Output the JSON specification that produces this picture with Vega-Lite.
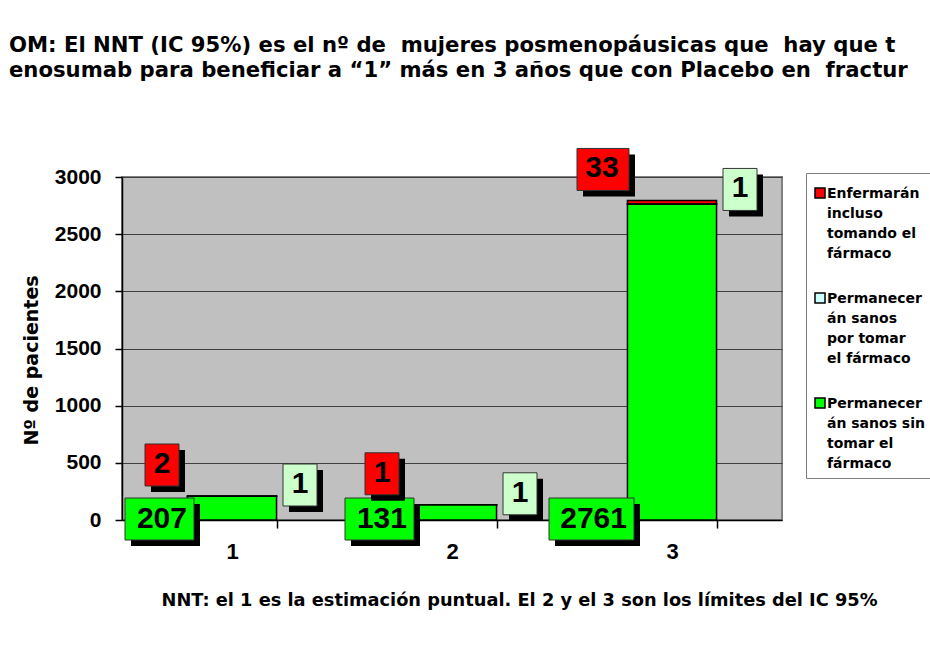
{
  "$schema": "https://vega.github.io/schema/vega-lite/v6.json",
  "autosize": {"type": "none"},
  "width": 660,
  "height": 343,
  "padding": {"left": 122, "top": 177, "right": 148, "bottom": 126},
  "background": "white",
  "title": {
    "text": ["OM: El NNT (IC 95%) es el nº de\u00a0 mujeres posmenopáusicas que\u00a0 hay que t", "enosumab para beneficiar a “1” más en 3 años que con Placebo en\u00a0 fractur"],
    "anchor": "start",
    "frame": "group",
    "dx": -113,
    "dy": -61,
    "font": "DejaVu Sans",
    "fontSize": 21.2,
    "fontWeight": "bold",
    "lineHeight": 25,
    "color": "black"
  },
  "data": {
    "values": [
      {"nnt": "1", "serie": "Enfermarán incluso tomando el fármaco", "n": 2},
      {"nnt": "1", "serie": "Permanecerán sanos por tomar el fármaco", "n": 1},
      {"nnt": "1", "serie": "Permanecerán sanos sin tomar el fármaco", "n": 207},
      {"nnt": "2", "serie": "Enfermarán incluso tomando el fármaco", "n": 1},
      {"nnt": "2", "serie": "Permanecerán sanos por tomar el fármaco", "n": 1},
      {"nnt": "2", "serie": "Permanecerán sanos sin tomar el fármaco", "n": 131},
      {"nnt": "3", "serie": "Enfermarán incluso tomando el fármaco", "n": 33},
      {"nnt": "3", "serie": "Permanecerán sanos por tomar el fármaco", "n": 1},
      {"nnt": "3", "serie": "Permanecerán sanos sin tomar el fármaco", "n": 2761}
    ]
  },
  "transform": [
    {"joinaggregate": [{"op": "sum", "field": "n", "as": "total"}], "groupby": ["nnt"]},
    {"calculate": "length(toString(datum.n))", "as": "cifras"}
  ],
  "encoding": {
    "x": {
      "field": "nnt",
      "type": "nominal",
      "scale": {"paddingInner": 0.595, "paddingOuter": 0.2975},
      "axis": {
        "title": "NNT: el 1 es la estimación puntual. El 2 y el 3 son los límites del IC 95%",
        "labelAngle": 0,
        "tickBand": "extent",
        "tickSize": 8,
        "labelPadding": 13,
        "labelFontSize": 22,
        "titleFont": "DejaVu Sans",
        "titleFontWeight": "bold",
        "titleFontSize": 17.8,
        "titleX": 397,
        "titleY": 80,
        "titleBaseline": "middle",
        "titleAlign": "center"
      }
    }
  },
  "layer": [
    {
      "mark": {"type": "bar", "stroke": "black", "strokeWidth": 1.5},
      "encoding": {
        "y": {
          "field": "n",
          "type": "quantitative",
          "stack": "zero",
          "scale": {"domain": [0, 3000]},
          "axis": {"title": "Nº de pacientes", "format": "d"}
        },
        "color": {
          "field": "serie",
          "type": "nominal",
          "scale": {
            "domain": ["Enfermarán incluso tomando el fármaco", "Permanecerán sanos por tomar el fármaco", "Permanecerán sanos sin tomar el fármaco"],
            "range": ["#FF0000", "#CCFFFF", "#00FF00"]
          },
          "legend": {
            "title": null,
            "orient": "none",
            "legendX": 684,
            "legendY": -4,
            "strokeColor": "#808080",
            "fillColor": "white",
            "padding": 7,
            "symbolType": "M-1,0.2H1V2.2H-1Z",
            "symbolSize": 100,
            "symbolStrokeColor": "black",
            "symbolStrokeWidth": 1.5,
            "symbolOpacity": 1,
            "labelFont": "DejaVu Sans",
            "labelFontSize": 14,
            "labelFontWeight": "bold",
            "labelColor": "black",
            "labelBaseline": "top",
            "labelOffset": 0,
            "labelLimit": 200,
            "rowPadding": 24,
            "labelExpr": "datum.label == 'Enfermarán incluso tomando el fármaco' ? ['Enfermarán', 'incluso', 'tomando el', 'fármaco'] : datum.label == 'Permanecerán sanos por tomar el fármaco' ? ['Permanecer', 'án sanos', 'por tomar', 'el fármaco'] : ['Permanecer', 'án sanos sin', 'tomar el', 'fármaco']"
          }
        },
        "order": {"field": "serie", "sort": "descending"}
      }
    },
    {
      "transform": [{"filter": "datum.serie == 'Permanecerán sanos sin tomar el fármaco'"}],
      "mark": {"type": "point", "filled": true, "size": 4, "fill": "black", "strokeWidth": 0, "opacity": 1},
      "encoding": {
        "y": {"datum": 0, "type": "quantitative", "axis": {"title": "Nº de pacientes", "format": "d"}},
        "shape": {"field": "cifras", "type": "nominal", "scale": {"domain": [3, 4], "range": ["M-101,-16H-32V26H-101Z", "M-117,-16H-32V26H-117Z"]}, "legend": null}
      }
    },
    {
      "transform": [{"filter": "datum.serie == 'Permanecerán sanos sin tomar el fármaco'"}],
      "mark": {"type": "point", "filled": true, "size": 4, "fill": "#00FF00", "stroke": "#333333", "strokeWidth": 1, "opacity": 1},
      "encoding": {
        "y": {"datum": 0, "type": "quantitative", "axis": {"title": "Nº de pacientes", "format": "d"}},
        "shape": {"field": "cifras", "type": "nominal", "scale": {"domain": [3, 4], "range": ["M-107,-22H-38V20H-107Z", "M-123,-22H-38V20H-123Z"]}, "legend": null}
      }
    },
    {
      "transform": [{"filter": "datum.serie == 'Permanecerán sanos sin tomar el fármaco'"}],
      "mark": {"type": "text", "align": "right", "baseline": "middle", "dx": -45, "dy": -1, "font": "Liberation Sans", "fontSize": 30, "fontWeight": "bold", "color": "black"},
      "encoding": {
        "y": {"datum": 0, "type": "quantitative", "axis": {"title": "Nº de pacientes", "format": "d"}},
        "text": {"field": "n", "type": "quantitative"}
      }
    },
    {
      "transform": [{"filter": "datum.serie == 'Enfermarán incluso tomando el fármaco'"}],
      "mark": {"type": "point", "filled": true, "size": 4, "fill": "black", "strokeWidth": 0, "opacity": 1},
      "encoding": {
        "y": {"field": "total", "type": "quantitative", "axis": {"title": "Nº de pacientes", "format": "d"}},
        "shape": {"field": "cifras", "type": "nominal", "scale": {"domain": [1, 2], "range": ["M-81,-46H-47V-4H-81Z", "M-89,-46H-37V-4H-89Z"]}, "legend": null}
      }
    },
    {
      "transform": [{"filter": "datum.serie == 'Enfermarán incluso tomando el fármaco'"}],
      "mark": {"type": "point", "filled": true, "size": 4, "fill": "#FF0000", "stroke": "#333333", "strokeWidth": 1, "opacity": 1},
      "encoding": {
        "y": {"field": "total", "type": "quantitative", "axis": {"title": "Nº de pacientes", "format": "d"}},
        "shape": {"field": "cifras", "type": "nominal", "scale": {"domain": [1, 2], "range": ["M-87,-52H-53V-10H-87Z", "M-95,-52H-43V-10H-95Z"]}, "legend": null}
      }
    },
    {
      "transform": [{"filter": "datum.serie == 'Enfermarán incluso tomando el fármaco'"}],
      "mark": {"type": "text", "align": "center", "baseline": "middle", "dx": -70, "dy": -32, "font": "Liberation Sans", "fontSize": 30, "fontWeight": "bold", "color": "black"},
      "encoding": {
        "y": {"field": "total", "type": "quantitative", "axis": {"title": "Nº de pacientes", "format": "d"}},
        "text": {"field": "n", "type": "quantitative"}
      }
    },
    {
      "transform": [{"filter": "datum.serie == 'Permanecerán sanos por tomar el fármaco'"}],
      "mark": {"type": "point", "filled": true, "size": 4, "fill": "black", "strokeWidth": 0, "opacity": 1},
      "encoding": {
        "y": {"field": "total", "type": "quantitative", "axis": {"title": "Nº de pacientes", "format": "d"}},
        "shape": {"field": "cifras", "type": "nominal", "scale": {"domain": [1], "range": ["M57,-26H91V16H57Z"]}, "legend": null}
      }
    },
    {
      "transform": [{"filter": "datum.serie == 'Permanecerán sanos por tomar el fármaco'"}],
      "mark": {"type": "point", "filled": true, "size": 4, "fill": "#CCFFCC", "stroke": "#333333", "strokeWidth": 1, "opacity": 1},
      "encoding": {
        "y": {"field": "total", "type": "quantitative", "axis": {"title": "Nº de pacientes", "format": "d"}},
        "shape": {"field": "cifras", "type": "nominal", "scale": {"domain": [1], "range": ["M51,-32H85V10H51Z"]}, "legend": null}
      }
    },
    {
      "transform": [{"filter": "datum.serie == 'Permanecerán sanos por tomar el fármaco'"}],
      "mark": {"type": "text", "align": "center", "baseline": "middle", "dx": 68, "dy": -12, "font": "Liberation Sans", "fontSize": 30, "fontWeight": "bold", "color": "black"},
      "encoding": {
        "y": {"field": "total", "type": "quantitative", "axis": {"title": "Nº de pacientes", "format": "d"}},
        "text": {"field": "n", "type": "quantitative"}
      }
    }
  ],
  "resolve": {"scale": {"shape": "independent"}},
  "config": {
    "view": {"fill": "#C0C0C0", "stroke": "#808080", "strokeWidth": 2},
    "axis": {
      "labelFont": "Liberation Sans",
      "labelFontWeight": "bold",
      "labelColor": "black",
      "titleColor": "black",
      "domainColor": "black",
      "domainWidth": 1.5,
      "tickColor": "black",
      "tickWidth": 1.5
    },
    "axisY": {
      "values": [0, 500, 1000, 1500, 2000, 2500, 3000],
      "tickSize": 7,
      "labelPadding": 14,
      "labelFontSize": 21,
      "grid": true,
      "gridColor": "#404040",
      "gridWidth": 1,
      "titleFont": "DejaVu Sans",
      "titleFontWeight": "bold",
      "titleFontSize": 19,
      "titleX": -91,
      "titleY": 183,
      "titleAngle": 270,
      "titleAlign": "center",
      "titleBaseline": "middle"
    },
    "style": {"guide-label": {"lineHeight": 20}}
  }
}
